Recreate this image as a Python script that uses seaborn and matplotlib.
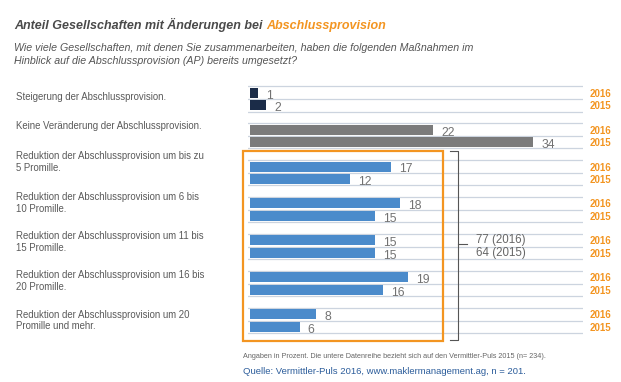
import matplotlib
matplotlib.use("Agg")
import matplotlib.pyplot as plt
import matplotlib.transforms as mtrans
import seaborn as sns
import pandas as pd
from matplotlib.patches import Rectangle

# data
categories = [
    "Steigerung der Abschlussprovision.",
    "Keine Veränderung der Abschlussprovision.",
    "Reduktion der Abschlussprovision um bis zu\n5 Promille.",
    "Reduktion der Abschlussprovision um 6 bis\n10 Promille.",
    "Reduktion der Abschlussprovision um 11 bis\n15 Promille.",
    "Reduktion der Abschlussprovision um 16 bis\n20 Promille.",
    "Reduktion der Abschlussprovision um 20\nPromille und mehr.",
]
years = ["2016", "2015"]
values_2016 = [1, 22, 17, 18, 15, 19, 8]
values_2015 = [2, 34, 12, 15, 15, 16, 6]
sum_labels = ["77 (2016)", "64 (2015)"]

df = pd.DataFrame({
    "kategorie": categories * 2,
    "jahr": [years[0]] * len(categories) + [years[1]] * len(categories),
    "wert": values_2016 + values_2015,
})

ORANGE = "#f39521"
GREY_TXT = "#5a5a5a"
bar_colors = ["#1b2c48", "#7b7b7b"] + ["#4b8bcb"] * 5

plt.rcParams["font.family"] = ["Liberation Sans", "DejaVu Sans"]

fig = plt.figure(figsize=(6.21, 3.82), dpi=100)
W, H = 621, 382
# axes placed in pixel terms
left, right, top, bottom = 248, 583, 80.5, 339
ax = fig.add_axes([left / W, 1 - bottom / H, (right - left) / W, (bottom - top) / H])

sns.barplot(data=df, y="kategorie", x="wert", hue="jahr", hue_order=years,
            orient="h", width=0.68, gap=0.2, ax=ax, legend=False, saturation=1)

for cont in ax.containers:
    for i, bar in enumerate(cont):
        bar.set_facecolor(bar_colors[i])
        bar.set_edgecolor("none")
        bar.set_zorder(3)
        w = bar.get_width()
        yc = bar.get_y() + bar.get_height() / 2
        ax.annotate(f"{w:g}", (w, yc), xytext=(6, -1), textcoords="offset points",
                    va="center_baseline", ha="left", fontsize=8.7, color="#727272")

ax.set_xlim(-0.18, 40)
ax.set_ylim(len(categories) - 0.5, -0.5)
ax.axis("off")

# horizontal rules at bar slot edges
for i in range(len(categories)):
    for off in (-0.34, 0, 0.34):
        ax.axhline(i + off, color="#ccd4df", lw=0.9, zorder=1)

# year labels on the right
for i in range(len(categories)):
    for j, yr in enumerate(years):
        yc = i - 0.17 + j * 0.34
        ax.text(1.02, yc, yr, transform=ax.get_yaxis_transform(), ha="left",
                va="center_baseline", fontsize=7, fontweight="bold", color=ORANGE)

# category labels (figure x, data y)
lab_tr = mtrans.blended_transform_factory(fig.transFigure, ax.transData)
label_shift = [-0.05, -0.26, -0.3, -0.18, -0.12, -0.07, 0.0]
for i, cat in enumerate(categories):
    ax.text(16 / W, i + label_shift[i], cat, transform=lab_tr,
            ha="left", va="center", fontsize=6.9, color=GREY_TXT, linespacing=1.2)

# orange frame around reduction rows
fig.patches.append(Rectangle((243 / W, 1 - 340.5 / H), 200 / W, 190 / H,
                             transform=fig.transFigure, fill=False,
                             edgecolor=ORANGE, lw=1.6))
# bracket
bx, btop, bbot = 458 / W, 1 - 150.5 / H, 1 - 339.5 / H
fig.add_artist(plt.Line2D([450 / W, bx, bx, 450 / W], [btop, btop, bbot, bbot],
                          transform=fig.transFigure, color="#555555", lw=0.8))
fig.add_artist(plt.Line2D([bx, 467 / W], [1 - 244 / H] * 2,
                          transform=fig.transFigure, color="#555555", lw=0.8))
fig.text(476 / W, 1 - 240 / H, sum_labels[0], ha="left", va="center",
         fontsize=8.3, color="#666666")
fig.text(476 / W, 1 - 253 / H, sum_labels[1], ha="left", va="center",
         fontsize=8.3, color="#666666")

# title
t1 = fig.text(14 / W, 1 - 29 / H, "Anteil Gesellschaften mit Änderungen bei ",
              ha="left", va="baseline", fontsize=9.0, fontweight="bold",
              style="italic", color="#4a4a4a")
fig.canvas.draw()
bb = t1.get_window_extent()
fig.text(bb.x1 / W, 1 - 29 / H, "Abschlussprovision", ha="left", va="baseline",
         fontsize=9.0, fontweight="bold", style="italic", color=ORANGE)
fig.text(14 / W, 1 - 54.5 / H,
         "Wie viele Gesellschaften, mit denen Sie zusammenarbeiten, haben die folgenden Maßnahmen im\n"
         "Hinblick auf die Abschlussprovision (AP) bereits umgesetzt?",
         ha="left", va="center", fontsize=7.7, style="italic", color="#555555",
         linespacing=1.45)

# footnotes
fig.text(243 / W, 1 - 356 / H,
         "Angaben in Prozent. Die untere Datenreihe bezieht sich auf den Vermittler-Puls 2015 (n= 234).",
         ha="left", va="center", fontsize=5.2, color="#666666")
fig.text(243 / W, 1 - 372 / H,
         "Quelle: Vermittler-Puls 2016, www.maklermanagement.ag, n = 201.",
         ha="left", va="center", fontsize=6.8, color="#2c5d9b")

fig.savefig("out.png", dpi=100, facecolor="white")
